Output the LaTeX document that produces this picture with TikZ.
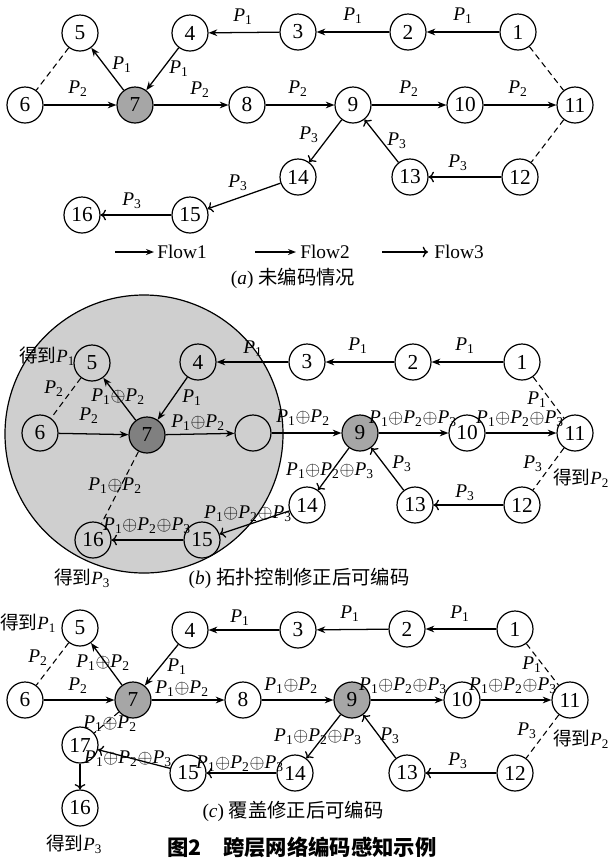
\documentclass[tikz,border=0pt]{standalone}
\usepackage{fontspec}
\setmainfont{Liberation Serif}
\newfontfamily\cjk{Noto Sans CJK SC}
\usetikzlibrary{arrows.meta}
\newcommand{\Px}[1]{\textit{P}\textsubscript{#1}}
\newcommand{\ox}{\ensuremath{\oplus}}
\begin{document}
\begin{tikzpicture}[x=0.75pt,y=-0.75pt,
  nd/.style={circle, draw, line width=0.9pt, minimum size=27pt, inner sep=0pt, font=\fontsize{16}{16}\selectfont},
  gnd/.style={nd, fill=black!35},
  dgnd/.style={nd, fill=black!50},
  fa/.style={line width=0.95pt, -{Stealth[length=6.5pt,width=5pt]}},
  fo/.style={line width=0.95pt, -{To[length=4pt,width=8pt]}},
  dsh/.style={line width=0.8pt, dash pattern=on 4.5pt off 3pt},
  lb/.style={font=\fontsize{14.5}{15}\selectfont, inner sep=0pt},
  cj/.style={font=\fontsize{14}{15}\selectfont\cjk, inner sep=0pt},
  captxt/.style={font=\fontsize{14.5}{15}\selectfont, inner sep=0pt},
]
\useasboundingbox (0,0) rectangle (609,861);

% ================= (a) =================
\node[nd] (a1) at (518,32) {1};
\node[nd] (a2) at (408,32) {2};
\node[nd] (a3) at (298,32) {3};
\node[nd] (a4) at (190,33) {4};
\node[nd] (a5) at (80,33) {5};
\node[nd] (a6) at (25,105) {6};
\node[gnd] (a7) at (135,105) {7};
\node[nd] (a8) at (247,105) {8};
\node[nd] (a9) at (353,105) {9};
\node[nd] (a10) at (465,105) {10};
\node[nd] (a11) at (575,105) {11};
\node[nd] (a12) at (520,177) {12};
\node[nd] (a13) at (410,177) {13};
\node[nd] (a14) at (298,177) {14};
\node[nd] (a15) at (190,215) {15};
\node[nd] (a16) at (82,215) {16};

\draw[fa] (a1) -- (a2);
\draw[fa] (a2) -- (a3);
\draw[fa] (a3) -- (a4);
\draw[fa] (a4) -- (a7);
\draw[fa] (a7) -- (a5);
\draw[fa] (a6) -- (a7);
\draw[fa] (a7) -- (a8);
\draw[fa] (a8) -- (a9);
\draw[fa] (a9) -- (a10);
\draw[fa] (a10) -- (a11);
\draw[dsh] (a1) -- (a11);
\draw[dsh] (a11) -- (a12);
\draw[dsh] (a5) -- (a6);
\draw[fo] (a12) -- (a13);
\draw[fo] (a13) -- (a9);
\draw[fo] (a9) -- (a14);
\draw[fo] (a14) -- (a15);
\draw[fo] (a15) -- (a16);

\node[lb] (la1) at (463,16) {\Px{1}};
\node[lb] (la2) at (353,16) {\Px{1}};
\node[lb] (la3) at (243,17) {\Px{1}};
\node[lb] (la4) at (179,69) {\Px{1}};
\node[lb] (la5) at (122,65) {\Px{1}};
\node[lb] (la6) at (78,89) {\Px{2}};
\node[lb] (la7) at (200,90) {\Px{2}};
\node[lb] (la8) at (298,89) {\Px{2}};
\node[lb] (la9) at (409,89) {\Px{2}};
\node[lb] (la10) at (518,89) {\Px{2}};
\node[lb] (la11) at (309,135) {\Px{3}};
\node[lb] (la12) at (397,141) {\Px{3}};
\node[lb] (la13) at (458,163) {\Px{3}};
\node[lb] (la14) at (238,183) {\Px{3}};
\node[lb] (la15) at (132,201) {\Px{3}};

% legend
\coordinate (l1s) at (115,252); \coordinate (l1e) at (154,252);
\coordinate (l2s) at (255,252); \coordinate (l2e) at (296,252);
\coordinate (l3s) at (382,252); \coordinate (l3e) at (428,252);
\draw[line width=0.95pt, -{Stealth[length=6pt,width=4.5pt]}] (l1s) -- (l1e);
\draw[line width=0.95pt, -{Stealth[length=6pt,width=4.5pt]}] (l2s) -- (l2e);
\draw[fo] (l3s) -- (l3e);
\node[captxt, anchor=west] (lt1) at (157,252) {Flow1};
\node[captxt, anchor=west] (lt2) at (300,252) {Flow2};
\node[captxt, anchor=west] (lt3) at (434,252) {Flow3};
\node[captxt] (capa) at (293,278) {(\textit{a}) {\cjk 未编码情况}};

% ================= (b) =================
\fill[black!19] (144,434) circle [radius=104.25pt];
\draw[line width=0.9pt] (144,434) circle [radius=104.25pt];

\node[nd] (b1) at (522,362) {1};
\node[nd] (b2) at (413,362) {2};
\node[nd] (b3) at (307,362) {3};
\node[nd] (b4) at (198,362) {4};
\node[nd] (b5) at (92,363) {5};
\node[nd] (b6) at (40,433) {6};
\node[dgnd] (b7) at (147,435) {7};
\node[nd] (b8) at (253,433) {};
\node[gnd] (b9) at (360,433) {9};
\node[nd] (b10) at (467,433) {10};
\node[nd] (b11) at (575,433) {11};
\node[nd] (b12) at (522,505) {12};
\node[nd] (b13) at (415,505) {13};
\node[nd] (b14) at (307,505) {14};
\node[nd] (b15) at (202,540) {15};
\node[nd] (b16) at (93,540) {16};

\draw[fa] (b1) -- (b2);
\draw[fa] (b2) -- (b3);
\draw[fa] (b3) -- (b4);
\draw[fa] (b4) -- (b7);
\draw[fa] (b7) -- (b5);
\draw[fa] (b6) -- (b7);
\draw[fa] (b7) -- (b8);
\draw[fa] (b8) -- (b9);
\draw[fa] (b9) -- (b10);
\draw[fa] (b10) -- (b11);
\draw[dsh] (b1) -- (b11);
\draw[dsh] (b11) -- (b12);
\draw[dsh] (b5) -- (b6);
\draw[dsh] (b7) -- (b16);
\draw[fo] (b12) -- (b13);
\draw[fo] (b13) -- (b9);
\draw[fo] (b9) -- (b14);
\draw[fo] (b14) -- (b15);
\draw[fo] (b15) -- (b16);

\node[lb] (lb1) at (465,346) {\Px{1}};
\node[lb] (lb2) at (358,346) {\Px{1}};
\node[lb] (lb3) at (253,349) {\Px{1}};
\node[lb] (lb4) at (192,398) {\Px{1}};
\node[lb] (lb5) at (118,397) {\Px{1}\ox\Px{2}};
\node[lb] (lb6) at (54,389) {\Px{2}};
\node[lb] (lb7) at (89,416) {\Px{2}};
\node[lb] (lb8) at (198,423) {\Px{1}\ox\Px{2}};
\node[lb] (lb9) at (303,418) {\Px{1}\ox\Px{2}};
\node[lb] (lb10) at (413,419) {\Px{1}\ox\Px{2}\ox\Px{3}};
\node[lb] (lb11) at (520,419) {\Px{1}\ox\Px{2}\ox\Px{3}};
\node[lb] (lb12) at (537,400) {\Px{1}};
\node[lb] (lb13) at (533,464) {\Px{3}};
\node[lb] (lb14) at (465,493) {\Px{3}};
\node[lb] (lb15) at (402,464) {\Px{3}};
\node[lb] (lb16) at (330,471) {\Px{1}\ox\Px{2}\ox\Px{3}};
\node[lb] (lb17) at (248,514) {\Px{1}\ox\Px{2}\ox\Px{3}};
\node[lb] (lb18) at (147,526) {\Px{1}\ox\Px{2}\ox\Px{3}};
\node[lb] (lb19) at (115,486) {\Px{1}\ox\Px{2}};
\node[cj] (gb1) at (47,356) {得到\textrm{\Px{1}}};
\node[cj] (gb2) at (581,478) {得到\textrm{\Px{2}}};
\node[cj] (gb3) at (82,578) {得到\textrm{\Px{3}}};
\node[captxt] (capb) at (299,578) {(\textit{b}) {\cjk 拓扑控制修正后可编码}};

% ================= (c) =================
\node[nd] (c1) at (515,629) {1};
\node[nd] (c2) at (407,629) {2};
\node[nd] (c3) at (298,630) {3};
\node[nd] (c4) at (190,630) {4};
\node[nd] (c5) at (80,628) {5};
\node[nd] (c6) at (25,700) {6};
\node[gnd] (c7) at (133,700) {7};
\node[nd] (c8) at (243,700) {8};
\node[gnd] (c9) at (352,700) {9};
\node[nd] (c10) at (462,700) {10};
\node[nd] (c11) at (570,700) {11};
\node[nd] (c12) at (515,773) {12};
\node[nd] (c13) at (407,773) {13};
\node[nd] (c14) at (295,773) {14};
\node[nd] (c15) at (188,773) {15};
\node[nd] (c17) at (80,745) {17};
\node[nd] (c16) at (80,808) {16};

\draw[fa] (c1) -- (c2);
\draw[fa] (c2) -- (c3);
\draw[fa] (c3) -- (c4);
\draw[fa] (c4) -- (c7);
\draw[fa] (c7) -- (c5);
\draw[fa] (c6) -- (c7);
\draw[fa] (c7) -- (c8);
\draw[fa] (c8) -- (c9);
\draw[fa] (c9) -- (c10);
\draw[fa] (c10) -- (c11);
\draw[dsh] (c1) -- (c11);
\draw[dsh] (c11) -- (c12);
\draw[dsh] (c5) -- (c6);
\draw[dsh] (c7) -- (c17);
\draw[fo] (c12) -- (c13);
\draw[fo] (c13) -- (c9);
\draw[fo] (c9) -- (c14);
\draw[fo] (c14) -- (c15);
\draw[fo] (c15) -- (c17);
\draw[fo] (c17) -- (c16);

\node[lb] (lc1) at (460,614) {\Px{1}};
\node[lb] (lc2) at (350,614) {\Px{1}};
\node[lb] (lc3) at (240,618) {\Px{1}};
\node[lb] (lc4) at (177,667) {\Px{1}};
\node[lb] (lc5) at (103,663) {\Px{1}\ox\Px{2}};
\node[lb] (lc6) at (38,658) {\Px{2}};
\node[lb] (lc7) at (78,686) {\Px{2}};
\node[lb] (lc8) at (182,689) {\Px{1}\ox\Px{2}};
\node[lb] (lc9) at (291,686) {\Px{1}\ox\Px{2}};
\node[lb] (lc10) at (403,686) {\Px{1}\ox\Px{2}\ox\Px{3}};
\node[lb] (lc11) at (513,686) {\Px{1}\ox\Px{2}\ox\Px{3}};
\node[lb] (lc12) at (532,665) {\Px{1}};
\node[lb] (lc13) at (527,731) {\Px{3}};
\node[lb] (lc14) at (458,761) {\Px{3}};
\node[lb] (lc15) at (390,736) {\Px{3}};
\node[lb] (lc16) at (318,737) {\Px{1}\ox\Px{2}\ox\Px{3}};
\node[lb] (lc17) at (240,764) {\Px{1}\ox\Px{2}\ox\Px{3}};
\node[lb] (lc18) at (128,759) {\Px{1}\ox\Px{2}\ox\Px{3}};
\node[lb] (lc19) at (110,724) {\Px{1}\ox\Px{2}};
\node[cj] (gc1) at (28,623) {得到\textrm{\Px{1}}};
\node[cj] (gc2) at (581,739) {得到\textrm{\Px{2}}};
\node[cj] (gc3) at (74,844) {得到\textrm{\Px{3}}};
\node[captxt] (capc) at (293,811) {(\textit{c}) {\cjk 覆盖修正后可编码}};
\node[inner sep=0pt, font=\fontsize{16}{17}\selectfont\cjk\bfseries] (title) at (302,847) {图2\quad 跨层网络编码感知示例};
\end{tikzpicture}
\end{document}
